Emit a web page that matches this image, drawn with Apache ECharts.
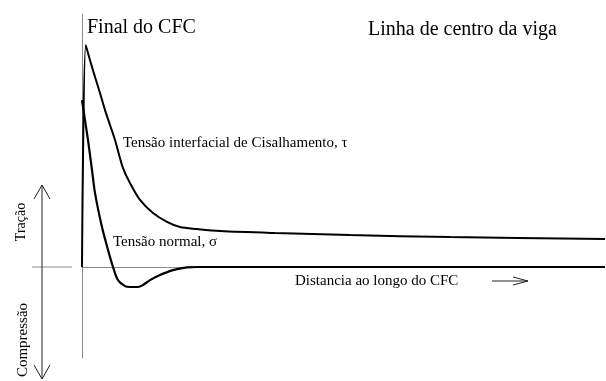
<!DOCTYPE html>
<html>
<head>
<meta charset="utf-8">
<script src="https://cdn.jsdelivr.net/npm/echarts@6/dist/echarts.min.js"></script>
<style>
html,body{margin:0;padding:0;background:#fff;}
#chart{width:606px;height:381px;}
</style>
</head>
<body>
<div id="chart"></div>
<script>
// 剪应力 τ (x: 沿CFC距离 0~100, y: 相对值, 峰值=1)
const tauX = [0, 0.71, 1.53, 2.49, 3.44, 4.40, 5.35, 6.31, 7.1, 7.84, 9.18, 11.09, 13.58, 16.25, 18.74, 21.99, 26.39, 36.9, 51.2, 70.4, 100];
const tauY = [0, 1.0, 0.932, 0.856, 0.784, 0.707, 0.640, 0.572, 0.505, 0.446, 0.378, 0.302, 0.243, 0.203, 0.180, 0.171, 0.162, 0.153, 0.144, 0.135, 0.126];

// 正应力 σ
const sigmaX = [0, 0.57, 1.15, 1.91, 2.49, 3.82, 4.97, 5.93, 6.88, 8.22, 9.18, 10.71, 11.66, 13.0, 14.91, 17.4, 20.08, 21.99, 100];
const sigmaY = [0.752, 0.662, 0.572, 0.437, 0.333, 0.180, 0.077, 0, -0.059, -0.086, -0.090, -0.090, -0.081, -0.059, -0.036, -0.014, -0.002, 0, 0];

// 文字
const txtFinal = 'Final do CFC';
const txtCentro = 'Linha de centro da viga';
const txtTau = 'Tensão interfacial de Cisalhamento, τ';
const txtSigma = 'Tensão normal, σ';
const txtDist = 'Distancia ao longo do CFC';
const txtTracao = 'Tração';
const txtCompressao = 'Compressão';

const FONT = '"Liberation Serif", "Times New Roman", serif';

/**
 * 把 x/y 数组拼成 [[x,y],...]
 */
function pairs(xs, ys){
  const ret = [];
  for(let i = 0; i < xs.length; i++){
    ret.push([xs[i], ys[i]]);
  }
  return ret;
}

const chart = echarts.init(document.getElementById('chart'), null, {renderer: 'canvas'});

const option = {
  animation: false,
  backgroundColor: '#fff',
  grid: {left: 82, right: 1, top: 14, bottom: 23},
  xAxis: {
    type: 'value', min: 0, max: 100,
    axisLine: {onZero: true, lineStyle: {color: '#8a8a8a', width: 1}},
    axisTick: {show: false}, axisLabel: {show: false}, splitLine: {show: false}
  },
  yAxis: {
    type: 'value', min: -0.41, max: 1.14,
    axisLine: {show: true, lineStyle: {color: '#8a8a8a', width: 1}},
    axisTick: {show: false}, axisLabel: {show: false}, splitLine: {show: false}
  },
  series: [
    {
      name: 'tau', type: 'line', data: pairs(tauX, tauY),
      smooth: 0.3, symbol: 'none',
      lineStyle: {color: '#000', width: 2}
    },
    {
      name: 'sigma', type: 'line', data: pairs(sigmaX, sigmaY),
      smooth: 0.3, symbol: 'none',
      lineStyle: {color: '#000', width: 2.2}
    }
  ]
};
chart.setOption(option);

// 零线的像素位置
const y0 = chart.convertToPixel({gridIndex: 0}, [0, 0])[1];

function txt(text, x, y, size, rot){
  return {
    type: 'text', x: x, y: y, rotation: rot || 0, silent: true,
    style: {text: text, fill: '#000', font: size + 'px ' + FONT,
      align: rot ? 'center' : 'left', verticalAlign: 'middle'}
  };
}

function seg(x1, y1, x2, y2, color){
  return {type: 'line', silent: true,
    shape: {x1: x1, y1: y1, x2: x2, y2: y2},
    style: {stroke: color || '#222', lineWidth: 1}};
}

function chevron(pts){
  return {type: 'polyline', silent: true, shape: {points: pts},
    style: {stroke: '#222', lineWidth: 1, fill: null}};
}

const ax = 42, aTop = 185, aBot = 379;
chart.setOption({
  graphic: [
    // 左侧零线
    seg(32, y0, 72, y0, '#8a8a8a'),
    // 拉/压 双向箭头
    seg(ax, aTop, ax, aBot),
    chevron([[ax - 8, aTop + 14], [ax, aTop], [ax + 8, aTop + 14]]),
    chevron([[ax - 8, aBot - 14], [ax, aBot], [ax + 8, aBot - 14]]),
    // 距离箭头
    seg(492, 281, 528, 281),
    chevron([[513, 277], [528, 281], [513, 285]]),
    txt(txtFinal, 87, 28, 20),
    txt(txtCentro, 368, 30, 20),
    txt(txtTau, 123, 143, 15),
    txt(txtSigma, 113, 242, 15),
    txt(txtDist, 295, 281, 15),
    txt(txtTracao, 21, 222, 14, Math.PI / 2),
    txt(txtCompressao, 23, 340, 15, Math.PI / 2)
  ]
});
</script>
</body>
</html>
